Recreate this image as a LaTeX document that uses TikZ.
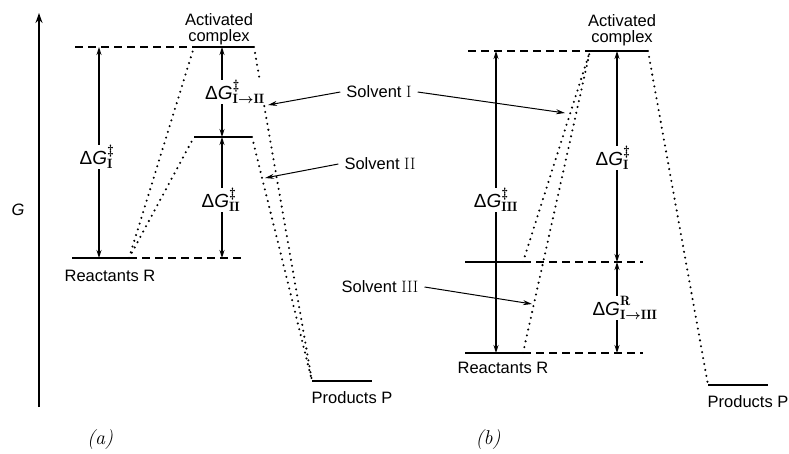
\RequirePackage{fix-cm}
\documentclass[tikz,border=0pt]{standalone}
\usepackage{fontspec}
\setsansfont{Liberation Sans}
\usetikzlibrary{arrows.meta}
\DeclareMathSizes{19}{19}{13.5}{10}
\tikzset{
  level/.style={line width=2.4pt},
  dashline/.style={dash pattern=on 8pt off 5pt, line width=1.1pt},
  dotline/.style={dash pattern=on 0pt off 6pt, line cap=round, line width=2.3pt},
  dimarrow/.style={{Stealth[length=8pt,width=5pt]}-{Stealth[length=8pt,width=5pt]}, line width=1.1pt},
  ptr/.style={-{Stealth[length=9pt,width=5pt]}, line width=1pt},
  lbl/.style={font=\fontsize{16.5}{17}\selectfont\sffamily, inner sep=0pt},
  solv/.style={lbl, inner xsep=6pt},
  dg/.style={font=\fontsize{19}{20}\selectfont\boldmath, fill=white, inner sep=1pt},
  panel/.style={font=\fontsize{20}{22}\selectfont\rmfamily\itshape, inner sep=0pt}
}
\newcommand{\dG}{{\sffamily\upshape Δ\itshape G}}
\begin{document}
\begin{tikzpicture}[x=1pt,y=-1pt]
\useasboundingbox (0,0) rectangle (789,453);
% G axis
\coordinate (Gb) at (39,407);
\coordinate (Gt) at (39,13);
\draw[line width=2.4pt,-{Stealth[length=10pt,width=7pt]}] (Gb) -- (Gt);
\node[lbl,font=\fontsize{16.5}{17}\selectfont\sffamily\itshape] (Glbl) at (18,210) {G};

% ---------- panel (a) ----------
\coordinate (aTd) at (75,47);
\coordinate (aC1l) at (194,47);
\coordinate (aC1r) at (254,47);
\coordinate (aC2l) at (194,137);
\coordinate (aC2r) at (252,137);
\coordinate (aRl) at (72,258);
\coordinate (aRr) at (129,258);
\coordinate (aRd) at (241,258);
\coordinate (aPl) at (312,381);
\coordinate (aPr) at (372,381);
\draw[dashline] (aTd) -- (aC1l);
\draw[dashline] (aRr) -- (aRd);
\draw[level] (aC1l) -- (aC1r);
\draw[level] (aC2l) -- (aC2r);
\draw[level] (aRl) -- (aRr);
\draw[level] (aPl) -- (aPr);
\draw[dotline] (aRr) -- (aC1l);
\draw[dotline] (aRr) -- (aC2l);
\draw[dotline] (aC1r) -- (aPl);
\draw[dotline] (aC2r) -- (aPl);
% dimension arrows
\coordinate (aA1t) at (99,47);
\coordinate (aA1b) at (99,258);
\coordinate (aA2t) at (222,47);
\coordinate (aA2m) at (222,137);
\coordinate (aA2b) at (222,258);
\draw[dimarrow] (aA1t) -- (aA1b);
\draw[dimarrow] (aA2t) -- (aA2m);
\draw[dimarrow] (aA2m) -- (aA2b);
\node[dg] (aL1) at (97,157) {\dG$^{\ddagger}_{\mathrm{I}}$};
\node[dg] (aL2) at (235,92) {\dG$^{\ddagger}_{\mathrm{I}\to\mathrm{II}}$};
\node[dg] (aL3) at (221,200) {\dG$^{\ddagger}_{\mathrm{II}}$};
\node[lbl,align=center] (aAC) at (219,29) {Activated\\[-1pt]complex};
\node[lbl] (aRlbl) at (110,276) {Reactants R};
\node[lbl] (aPlbl) at (352,398) {Products P};
\node[panel] (pa) at (100,440) {(a)};

% ---------- solvent labels ----------
\node[solv] (sI) at (379,92) {Solvent {\rmfamily I}};
\node[solv] (sII) at (380,164) {Solvent {\rmfamily II}};
\node[solv] (sIII) at (380,287) {Solvent {\rmfamily III}};
\coordinate (sIa) at (268,105);
\coordinate (sIb) at (565,113);
\coordinate (sIIa) at (265,178);
\coordinate (sIIIb) at (532,304);
\draw[ptr] (sI.west) -- (sIa);
\draw[ptr] (sI.east) -- (sIb);
\draw[ptr] (sII.west) -- (sIIa);
\draw[ptr] (sIII.east) -- (sIIIb);

% ---------- panel (b) ----------
\coordinate (bTd) at (468,51);
\coordinate (bCl) at (590,51);
\coordinate (bCr) at (648,51);
\coordinate (bR1l) at (465,262);
\coordinate (bR1r) at (523,262);
\coordinate (bR1d) at (643,262);
\coordinate (bR3l) at (465,353);
\coordinate (bR3r) at (523,353);
\coordinate (bR3d) at (643,353);
\coordinate (bPl) at (708,385);
\coordinate (bPr) at (768,385);
\draw[dashline] (bTd) -- (bCl);
\draw[dashline] (bR1r) -- (bR1d);
\draw[dashline] (bR3r) -- (bR3d);
\draw[level] (bCl) -- (bCr);
\draw[level] (bR1l) -- (bR1r);
\draw[level] (bR3l) -- (bR3r);
\draw[level] (bPl) -- (bPr);
\draw[dotline] (bR1r) -- (bCl);
\draw[dotline] (bR3r) -- (bCl);
\draw[dotline] (bCr) -- (bPl);
\coordinate (bA1t) at (496,51);
\coordinate (bA1b) at (496,353);
\coordinate (bA2t) at (617,51);
\coordinate (bA2m) at (617,262);
\coordinate (bA2b) at (617,353);
\draw[dimarrow] (bA1t) -- (bA1b);
\draw[dimarrow] (bA2t) -- (bA2m);
\draw[dimarrow] (bA2m) -- (bA2b);
\node[dg] (bL1) at (496,200) {\dG$^{\ddagger}_{\mathrm{III}}$};
\node[dg] (bL2) at (613,158) {\dG$^{\ddagger}_{\mathrm{I}}$};
\node[dg] (bL3) at (625,308) {\dG$^{\mathrm{R}\vphantom{\ddagger}}_{\mathrm{I}\to\mathrm{III}}$};
\node[lbl,align=center] (bAC) at (622,30) {Activated\\[-1pt]complex};
\node[lbl] (bRlbl) at (503,368) {Reactants R};
\node[lbl] (bPlbl) at (748,402) {Products P};
\node[panel] (pb) at (488,440) {(b)};
\end{tikzpicture}
\end{document}
